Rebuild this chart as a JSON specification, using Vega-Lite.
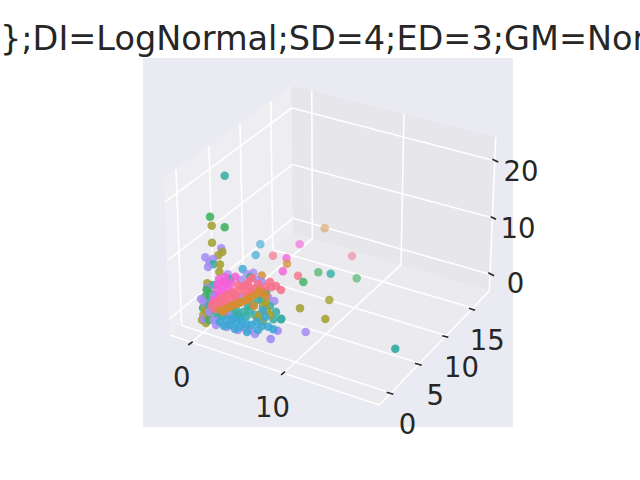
{
  "$schema": "https://vega.github.io/schema/vega-lite/v6.json",
  "width": 640,
  "height": 480,
  "autosize": {"type": "none"},
  "padding": 0,
  "background": "white",
  "config": {"view": {"stroke": null}},
  "datasets": {
    "frame": [{"x0": 143, "x1": 513, "y0": 58, "y1": 427}],
    "panes": [
      {"pane": "left", "k": 0, "px": 170, "py": 335},
      {"pane": "left", "k": 1, "px": 293, "py": 233},
      {"pane": "left", "k": 2, "px": 291.7, "py": 85.7},
      {"pane": "left", "k": 3, "px": 164, "py": 178},
      {"pane": "left", "k": 4, "px": 170, "py": 335},
      {"pane": "right", "k": 0, "px": 293, "py": 233},
      {"pane": "right", "k": 1, "px": 489.3, "py": 291},
      {"pane": "right", "k": 2, "px": 495.7, "py": 137.3},
      {"pane": "right", "k": 3, "px": 291.7, "py": 85.7},
      {"pane": "right", "k": 4, "px": 293, "py": 233},
      {"pane": "floor", "k": 0, "px": 170, "py": 335},
      {"pane": "floor", "k": 1, "px": 293, "py": 233},
      {"pane": "floor", "k": 2, "px": 489.3, "py": 291},
      {"pane": "floor", "k": 3, "px": 379.3, "py": 405},
      {"pane": "floor", "k": 4, "px": 170, "py": 335}
    ],
    "lines": [
      {"id": "gy0", "k": 0, "px": 181.6, "py": 325.4}, {"id": "gy0", "k": 1, "px": 176, "py": 169.3},
      {"id": "gy5", "k": 0, "px": 213.3, "py": 299.1}, {"id": "gy5", "k": 1, "px": 209, "py": 145.5},
      {"id": "gy10", "k": 0, "px": 243.2, "py": 274.3}, {"id": "gy10", "k": 1, "px": 240, "py": 123.1},
      {"id": "gy15", "k": 0, "px": 272.8, "py": 249.8}, {"id": "gy15", "k": 1, "px": 270.7, "py": 100.9},
      {"id": "lz0", "k": 0, "px": 169.4, "py": 318.8}, {"id": "lz0", "k": 1, "px": 292.9, "py": 218.3},
      {"id": "lz10", "k": 0, "px": 167.2, "py": 260.7}, {"id": "lz10", "k": 1, "px": 292.4, "py": 164.5},
      {"id": "lz20", "k": 0, "px": 164.9, "py": 202}, {"id": "lz20", "k": 1, "px": 291.9, "py": 108},
      {"id": "rz0", "k": 0, "px": 292.9, "py": 218.3}, {"id": "rz0", "k": 1, "px": 490, "py": 274.3},
      {"id": "rz10", "k": 0, "px": 292.4, "py": 164.5}, {"id": "rz10", "k": 1, "px": 492.3, "py": 217.8},
      {"id": "rz20", "k": 0, "px": 291.9, "py": 108}, {"id": "rz20", "k": 1, "px": 494.7, "py": 160.7},
      {"id": "rx0", "k": 0, "px": 312.3, "py": 238.7}, {"id": "rx0", "k": 1, "px": 311.8, "py": 90.8},
      {"id": "rx10", "k": 0, "px": 401, "py": 264.9}, {"id": "rx10", "k": 1, "px": 404, "py": 113.8},
      {"id": "fx0", "k": 0, "px": 191.2, "py": 342.6}, {"id": "fx0", "k": 1, "px": 312.3, "py": 238.7},
      {"id": "fx10", "k": 0, "px": 283.7, "py": 373}, {"id": "fx10", "k": 1, "px": 401, "py": 264.9},
      {"id": "fy0", "k": 0, "px": 181.6, "py": 325.4}, {"id": "fy0", "k": 1, "px": 391, "py": 392.9},
      {"id": "fy5", "k": 0, "px": 213.3, "py": 299.1}, {"id": "fy5", "k": 1, "px": 419.5, "py": 363.3},
      {"id": "fy10", "k": 0, "px": 243.2, "py": 274.3}, {"id": "fy10", "k": 1, "px": 446.3, "py": 335.6},
      {"id": "fy15", "k": 0, "px": 272.8, "py": 249.8}, {"id": "fy15", "k": 1, "px": 473, "py": 307.9},
      {"id": "ax", "k": 0, "px": 170, "py": 335}, {"id": "ax", "k": 1, "px": 379.3, "py": 405},
      {"id": "ay", "k": 0, "px": 379.3, "py": 405}, {"id": "ay", "k": 1, "px": 489.3, "py": 291},
      {"id": "az", "k": 0, "px": 489.3, "py": 291}, {"id": "az", "k": 1, "px": 495.7, "py": 137.3}
    ],
    "ticks": [
      {"px": 188.3, "py": 345, "px2": 192.7, "py2": 341.7},
      {"px": 281, "py": 375, "px2": 285, "py2": 371.7},
      {"px": 386.7, "py": 392.3, "px2": 393.3, "py2": 394.3},
      {"px": 415, "py": 363.3, "px2": 421.7, "py2": 365.3},
      {"px": 442.3, "py": 335.7, "px2": 448.3, "py2": 337.3},
      {"px": 469, "py": 308.3, "px2": 475, "py2": 310.3},
      {"px": 492.3, "py": 159.3, "px2": 498.3, "py2": 162},
      {"px": 490.7, "py": 216.7, "px2": 496, "py2": 219.3},
      {"px": 488.3, "py": 272.7, "px2": 494, "py2": 275.7}
    ],
    "labels": [
      {"px": 181.7, "py": 387.3, "t": "0"},
      {"px": 272.5, "py": 417.3, "t": "10"},
      {"px": 407.5, "py": 434, "t": "0"},
      {"px": 435.3, "py": 405, "t": "5"},
      {"px": 461.5, "py": 377.3, "t": "10"},
      {"px": 487.3, "py": 350, "t": "15"},
      {"px": 515.5, "py": 293.3, "t": "0"},
      {"px": 518, "py": 238, "t": "10"},
      {"px": 521, "py": 181, "t": "20"}
    ],
    "title": [{"px": 0, "py": 50, "t": "};DI=LogNormal;SD=4;ED=3;GM=Normal"}],
    "points": [
      {"px": 324.7, "py": 228.3, "grp": "or", "depth": 0.8},
      {"px": 352, "py": 256, "grp": "pk", "depth": 0.7},
      {"px": 299.7, "py": 244.3, "grp": "mg", "depth": 0.6},
      {"px": 260.3, "py": 244.3, "grp": "bl", "depth": 0.6},
      {"px": 255.7, "py": 255, "grp": "bl", "depth": 0.5},
      {"px": 273, "py": 255.7, "grp": "pk", "depth": 0.5},
      {"px": 356.7, "py": 278.3, "grp": "gr", "depth": 0.6},
      {"px": 318.3, "py": 272.3, "grp": "gr", "depth": 0.5},
      {"px": 330.7, "py": 273.7, "grp": "te", "depth": 0.3},
      {"px": 286.5, "py": 258, "grp": "mg", "depth": 0.4},
      {"px": 287, "py": 263.8, "grp": "or", "depth": 0.4},
      {"px": 282.8, "py": 271.2, "grp": "mg", "depth": 0.3},
      {"px": 298, "py": 275.7, "grp": "pk", "depth": 0.3},
      {"px": 303.3, "py": 282, "grp": "gr", "depth": 0.3},
      {"px": 224.7, "py": 175.7, "grp": "te", "depth": 0.2},
      {"px": 210, "py": 216.7, "grp": "gr", "depth": 0.2},
      {"px": 211.7, "py": 225.7, "grp": "ol", "depth": 0.2},
      {"px": 224.7, "py": 227.3, "grp": "gr", "depth": 0.2},
      {"px": 212, "py": 242.7, "grp": "ol", "depth": 0.2},
      {"px": 221.3, "py": 248.3, "grp": "pu", "depth": 0.2},
      {"px": 222.3, "py": 252, "grp": "ol", "depth": 0.2},
      {"px": 218.3, "py": 255.3, "grp": "ol", "depth": 0.2},
      {"px": 205.3, "py": 257.3, "grp": "pu", "depth": 0.2},
      {"px": 209.5, "py": 262.5, "grp": "pu", "depth": 0.2},
      {"px": 213, "py": 259, "grp": "pu", "depth": 0.2},
      {"px": 213.3, "py": 264.3, "grp": "te", "depth": 0.2},
      {"px": 220, "py": 264.5, "grp": "ol", "depth": 0.2},
      {"px": 219.3, "py": 271.7, "grp": "ol", "depth": 0.2},
      {"px": 208, "py": 267, "grp": "pu", "depth": 0.2},
      {"px": 329.3, "py": 300, "grp": "ol", "depth": 0.3},
      {"px": 300, "py": 308.3, "grp": "ol", "depth": 0.2},
      {"px": 325.3, "py": 319, "grp": "ol", "depth": 0.2},
      {"px": 305.7, "py": 332, "grp": "pu", "depth": 0.2},
      {"px": 395.3, "py": 348.7, "grp": "te", "depth": 0.1},
      {"px": 270.7, "py": 339, "grp": "pu", "depth": 0.1},
      {"px": 277.7, "py": 330.7, "grp": "pu", "depth": 0.1},
      {"px": 281.3, "py": 318.7, "grp": "te", "depth": 0.2},
      {"px": 273.3, "py": 319.3, "grp": "te", "depth": 0.2},
      {"px": 274.3, "py": 301, "grp": "pu", "depth": 0.2},
      {"px": 242.7, "py": 269, "grp": "bl", "depth": 0.3},
      {"px": 253.3, "py": 272.7, "grp": "pu", "depth": 0.3},
      {"px": 246.7, "py": 274, "grp": "pu", "depth": 0.3},
      {"px": 241, "py": 280, "grp": "pu", "depth": 0.3},
      {"px": 250, "py": 277, "grp": "te", "depth": 0.3},
      {"px": 261.7, "py": 275.5, "grp": "or", "depth": 0.3},
      {"px": 257.3, "py": 280, "grp": "pu", "depth": 0.3},
      {"px": 227.7, "py": 274.3, "grp": "pu", "depth": 0.3},
      {"px": 230, "py": 279.3, "grp": "te", "depth": 0.2},
      {"px": 262, "py": 282, "grp": "pu", "depth": 0.2},
      {"px": 268, "py": 297, "grp": "pu", "depth": 0.2},
      {"px": 207.3, "py": 283.3, "grp": "ol", "depth": 0.2},
      {"px": 213.3, "py": 285, "grp": "te", "depth": 0.2},
      {"px": 207, "py": 288, "grp": "pu", "depth": 0.2},
      {"px": 210, "py": 293.3, "grp": "gr", "depth": 0.2},
      {"px": 208.3, "py": 300, "grp": "te", "depth": 0.2},
      {"px": 206.7, "py": 290, "grp": "gr", "depth": 0.2},
      {"px": 205, "py": 296.7, "grp": "gr", "depth": 0.2},
      {"px": 201, "py": 299, "grp": "pu", "depth": 0.2},
      {"px": 203.5, "py": 302, "grp": "pu", "depth": 0.2},
      {"px": 203, "py": 308, "grp": "gr", "depth": 0.2},
      {"px": 205, "py": 306.7, "grp": "pu", "depth": 0.2},
      {"px": 205, "py": 310, "grp": "ol", "depth": 0.2},
      {"px": 203.3, "py": 315, "grp": "ol", "depth": 0.2},
      {"px": 202, "py": 320, "grp": "ol", "depth": 0.2},
      {"px": 206, "py": 323, "grp": "ol", "depth": 0.2},
      {"px": 204, "py": 319, "grp": "pu", "depth": 0.2},
      {"px": 208.3, "py": 316.7, "grp": "ol", "depth": 0.2},
      {"px": 209, "py": 320, "grp": "gr", "depth": 0.2},
      {"px": 213.3, "py": 320, "grp": "pu", "depth": 0.2},
      {"px": 216, "py": 325, "grp": "pu", "depth": 0.2},
      {"px": 212, "py": 310, "grp": "te", "depth": 0.2},
      {"px": 209, "py": 305, "grp": "te", "depth": 0.2},
      {"px": 215, "py": 295, "grp": "te", "depth": 0.2},
      {"px": 214, "py": 296, "grp": "pu", "depth": 0.2},
      {"px": 209, "py": 312, "grp": "pu", "depth": 0.2},
      {"px": 218, "py": 318, "grp": "pu", "depth": 0.2},
      {"px": 216, "py": 313, "grp": "te", "depth": 0.2},
      {"px": 222, "py": 316, "grp": "te", "depth": 0.2},
      {"px": 227, "py": 313, "grp": "te", "depth": 0.2},
      {"px": 233, "py": 314, "grp": "te", "depth": 0.2},
      {"px": 228, "py": 315, "grp": "pu", "depth": 0.2},
      {"px": 232, "py": 321, "grp": "pu", "depth": 0.2},
      {"px": 227, "py": 327, "grp": "pu", "depth": 0.2},
      {"px": 238, "py": 330, "grp": "pu", "depth": 0.2},
      {"px": 245, "py": 328, "grp": "pu", "depth": 0.2},
      {"px": 250, "py": 330, "grp": "pu", "depth": 0.2},
      {"px": 255, "py": 334, "grp": "pu", "depth": 0.2},
      {"px": 239, "py": 296, "grp": "pu", "depth": 0.2},
      {"px": 266, "py": 291.7, "grp": "gr", "depth": 0.2},
      {"px": 262, "py": 299, "grp": "te", "depth": 0.2},
      {"px": 243.3, "py": 311.7, "grp": "te", "depth": 0.2},
      {"px": 250, "py": 310, "grp": "te", "depth": 0.2},
      {"px": 255, "py": 315, "grp": "te", "depth": 0.2},
      {"px": 238.3, "py": 315, "grp": "te", "depth": 0.2},
      {"px": 240, "py": 318, "grp": "te", "depth": 0.2},
      {"px": 246.7, "py": 316, "grp": "te", "depth": 0.2},
      {"px": 248, "py": 306, "grp": "te", "depth": 0.2},
      {"px": 253, "py": 305, "grp": "te", "depth": 0.2},
      {"px": 258, "py": 300, "grp": "te", "depth": 0.2},
      {"px": 270, "py": 306, "grp": "te", "depth": 0.2},
      {"px": 276, "py": 312, "grp": "te", "depth": 0.2},
      {"px": 236, "py": 310, "grp": "te", "depth": 0.2},
      {"px": 266, "py": 302.7, "grp": "ol", "depth": 0.2},
      {"px": 267.3, "py": 311, "grp": "ol", "depth": 0.2},
      {"px": 260, "py": 314.3, "grp": "ol", "depth": 0.2},
      {"px": 263, "py": 306, "grp": "ol", "depth": 0.2},
      {"px": 258, "py": 318, "grp": "ol", "depth": 0.2},
      {"px": 270, "py": 315, "grp": "ol", "depth": 0.2},
      {"px": 263, "py": 321, "grp": "ol", "depth": 0.2},
      {"px": 226.7, "py": 319.3, "grp": "bl", "depth": 0.2},
      {"px": 233.3, "py": 318.3, "grp": "bl", "depth": 0.2},
      {"px": 241.7, "py": 320.7, "grp": "bl", "depth": 0.2},
      {"px": 246.7, "py": 324, "grp": "bl", "depth": 0.2},
      {"px": 251.7, "py": 325, "grp": "bl", "depth": 0.2},
      {"px": 256.7, "py": 321.7, "grp": "bl", "depth": 0.2},
      {"px": 240, "py": 326.7, "grp": "bl", "depth": 0.2},
      {"px": 230, "py": 325, "grp": "bl", "depth": 0.2},
      {"px": 224, "py": 326, "grp": "bl", "depth": 0.2},
      {"px": 235, "py": 329, "grp": "bl", "depth": 0.2},
      {"px": 220, "py": 321.7, "grp": "bl", "depth": 0.2},
      {"px": 236, "py": 322, "grp": "bl", "depth": 0.2},
      {"px": 265, "py": 317.3, "grp": "bl", "depth": 0.2},
      {"px": 268.3, "py": 326.7, "grp": "bl", "depth": 0.2},
      {"px": 273.3, "py": 329.3, "grp": "bl", "depth": 0.2},
      {"px": 262.7, "py": 310, "grp": "bl", "depth": 0.2},
      {"px": 262, "py": 326, "grp": "bl", "depth": 0.2},
      {"px": 258, "py": 330, "grp": "bl", "depth": 0.2},
      {"px": 247, "py": 332, "grp": "bl", "depth": 0.2},
      {"px": 281, "py": 319.3, "grp": "te", "depth": 0.2},
      {"px": 235.3, "py": 276.7, "grp": "mg", "depth": 0.2},
      {"px": 223.3, "py": 281.7, "grp": "mg", "depth": 0.2},
      {"px": 221.7, "py": 286.7, "grp": "mg", "depth": 0.2},
      {"px": 216.7, "py": 290, "grp": "mg", "depth": 0.2},
      {"px": 218, "py": 284, "grp": "mg", "depth": 0.2},
      {"px": 225, "py": 277, "grp": "mg", "depth": 0.2},
      {"px": 231, "py": 283, "grp": "mg", "depth": 0.2},
      {"px": 214, "py": 300, "grp": "mg", "depth": 0.2},
      {"px": 220, "py": 295, "grp": "mg", "depth": 0.2},
      {"px": 226, "py": 284, "grp": "mg", "depth": 0.2},
      {"px": 229, "py": 289, "grp": "mg", "depth": 0.2},
      {"px": 219, "py": 279, "grp": "mg", "depth": 0.2},
      {"px": 232, "py": 293, "grp": "mg", "depth": 0.2},
      {"px": 224, "py": 292, "grp": "mg", "depth": 0.2},
      {"px": 246, "py": 285, "grp": "mg", "depth": 0.2},
      {"px": 248.3, "py": 281.7, "grp": "pk", "depth": 0.2},
      {"px": 252, "py": 278, "grp": "pk", "depth": 0.2},
      {"px": 258, "py": 284, "grp": "pk", "depth": 0.2},
      {"px": 255, "py": 288.3, "grp": "pk", "depth": 0.2},
      {"px": 265, "py": 287.3, "grp": "pk", "depth": 0.2},
      {"px": 271, "py": 287.3, "grp": "pk", "depth": 0.2},
      {"px": 276, "py": 286, "grp": "pk", "depth": 0.2},
      {"px": 270, "py": 282, "grp": "pk", "depth": 0.2},
      {"px": 281, "py": 290, "grp": "pk", "depth": 0.2},
      {"px": 250, "py": 288.3, "grp": "pk", "depth": 0.2},
      {"px": 260, "py": 289, "grp": "pk", "depth": 0.2},
      {"px": 243, "py": 287, "grp": "pk", "depth": 0.2},
      {"px": 238, "py": 285, "grp": "pk", "depth": 0.2},
      {"px": 211.7, "py": 305, "grp": "pk", "depth": 0.2},
      {"px": 216.7, "py": 301.7, "grp": "pk", "depth": 0.2},
      {"px": 221.7, "py": 298.3, "grp": "pk", "depth": 0.2},
      {"px": 226.7, "py": 295, "grp": "pk", "depth": 0.2},
      {"px": 233.3, "py": 291.7, "grp": "pk", "depth": 0.2},
      {"px": 240, "py": 290, "grp": "pk", "depth": 0.2},
      {"px": 246.7, "py": 291.7, "grp": "pk", "depth": 0.2},
      {"px": 245, "py": 296, "grp": "pk", "depth": 0.2},
      {"px": 252, "py": 292, "grp": "pk", "depth": 0.2},
      {"px": 235, "py": 300, "grp": "pk", "depth": 0.2},
      {"px": 228, "py": 305, "grp": "pk", "depth": 0.2},
      {"px": 222, "py": 303, "grp": "pk", "depth": 0.2},
      {"px": 218.3, "py": 306.7, "grp": "pk", "depth": 0.2},
      {"px": 225, "py": 301.7, "grp": "pk", "depth": 0.2},
      {"px": 230, "py": 298, "grp": "pk", "depth": 0.2},
      {"px": 236, "py": 296, "grp": "pk", "depth": 0.2},
      {"px": 214, "py": 309, "grp": "pk", "depth": 0.2},
      {"px": 220, "py": 310, "grp": "or", "depth": 0.2},
      {"px": 226.7, "py": 308.3, "grp": "or", "depth": 0.2},
      {"px": 233.3, "py": 305, "grp": "or", "depth": 0.2},
      {"px": 240, "py": 302.7, "grp": "or", "depth": 0.2},
      {"px": 246.7, "py": 300, "grp": "or", "depth": 0.2},
      {"px": 251.7, "py": 296.7, "grp": "or", "depth": 0.2},
      {"px": 256.7, "py": 294, "grp": "or", "depth": 0.2},
      {"px": 261.7, "py": 293, "grp": "or", "depth": 0.2},
      {"px": 259, "py": 291, "grp": "or", "depth": 0.2},
      {"px": 266, "py": 296, "grp": "or", "depth": 0.2},
      {"px": 249, "py": 299, "grp": "or", "depth": 0.2},
      {"px": 254, "py": 306, "grp": "or", "depth": 0.2},
      {"px": 223.3, "py": 311.7, "grp": "or", "depth": 0.2},
      {"px": 230, "py": 307, "grp": "or", "depth": 0.2},
      {"px": 237, "py": 304, "grp": "or", "depth": 0.2},
      {"px": 244, "py": 301, "grp": "or", "depth": 0.2}
    ]
  },
  "layer": [
    {
      "data": {"name": "frame"},
      "mark": {"type": "rect", "fill": "#eaeaf2"},
      "encoding": {
        "x": {"field": "x0", "type": "quantitative", "scale": {"domain": [0, 640], "nice": false, "zero": false}, "axis": null},
        "x2": {"field": "x1"},
        "y": {"field": "y0", "type": "quantitative", "scale": {"domain": [0, 480], "reverse": true, "nice": false, "zero": false}, "axis": null},
        "y2": {"field": "y1"}
      }
    },
    {
      "data": {"name": "panes"},
      "transform": [{"filter": "datum.pane == 'left'"}],
      "mark": {"type": "line", "fill": "#eeeef2", "stroke": "#eeeef2", "strokeWidth": 0.5},
      "encoding": {
        "x": {"field": "px", "type": "quantitative", "axis": null},
        "y": {"field": "py", "type": "quantitative", "axis": null},
        "order": {"field": "k"}
      }
    },
    {
      "data": {"name": "panes"},
      "transform": [{"filter": "datum.pane == 'right'"}],
      "mark": {"type": "line", "fill": "#e6e6eb", "stroke": "#e6e6eb", "strokeWidth": 0.5},
      "encoding": {
        "x": {"field": "px", "type": "quantitative", "axis": null},
        "y": {"field": "py", "type": "quantitative", "axis": null},
        "order": {"field": "k"}
      }
    },
    {
      "data": {"name": "panes"},
      "transform": [{"filter": "datum.pane == 'floor'"}],
      "mark": {"type": "line", "fill": "#ebebef", "stroke": "#ebebef", "strokeWidth": 0.5},
      "encoding": {
        "x": {"field": "px", "type": "quantitative", "axis": null},
        "y": {"field": "py", "type": "quantitative", "axis": null},
        "order": {"field": "k"}
      }
    },
    {
      "data": {"name": "lines"},
      "mark": {"type": "line", "stroke": "white", "strokeWidth": 1.6},
      "encoding": {
        "x": {"field": "px", "type": "quantitative", "axis": null},
        "y": {"field": "py", "type": "quantitative", "axis": null},
        "detail": {"field": "id"},
        "order": {"field": "k"}
      }
    },
    {
      "data": {"name": "ticks"},
      "mark": {"type": "rule", "stroke": "#262626", "strokeWidth": 1.6},
      "encoding": {
        "x": {"field": "px", "type": "quantitative", "axis": null},
        "y": {"field": "py", "type": "quantitative", "axis": null},
        "x2": {"field": "px2"},
        "y2": {"field": "py2"}
      }
    },
    {
      "data": {"name": "points"},
      "mark": {"type": "circle", "size": 72},
      "encoding": {
        "x": {"field": "px", "type": "quantitative", "axis": null},
        "y": {"field": "py", "type": "quantitative", "axis": null},
        "color": {"field": "grp", "type": "nominal", "legend": null,
          "scale": {"domain": ["pk", "or", "ol", "gr", "te", "bl", "pu", "mg"],
                    "range": ["#f77189", "#d58c32", "#a4a031", "#3bb05e", "#36ada4", "#3aa7d4", "#a48cf4", "#f45fd8"]}},
        "opacity": {"field": "depth", "type": "quantitative", "legend": null, "scale": {"domain": [0, 1], "range": [1, 0.35]}}
      }
    },
    {
      "data": {"name": "labels"},
      "mark": {"type": "text", "font": "DejaVu Sans", "fontSize": 27.5, "fill": "#262626", "align": "center", "baseline": "alphabetic"},
      "encoding": {
        "x": {"field": "px", "type": "quantitative", "axis": null},
        "y": {"field": "py", "type": "quantitative", "axis": null},
        "text": {"field": "t"}
      }
    },
    {
      "data": {"name": "title"},
      "mark": {"type": "text", "font": "DejaVu Sans", "fontSize": 33.5, "fill": "#262626", "align": "left", "baseline": "alphabetic"},
      "encoding": {
        "x": {"field": "px", "type": "quantitative", "axis": null},
        "y": {"field": "py", "type": "quantitative", "axis": null},
        "text": {"field": "t"}
      }
    }
  ]
}
